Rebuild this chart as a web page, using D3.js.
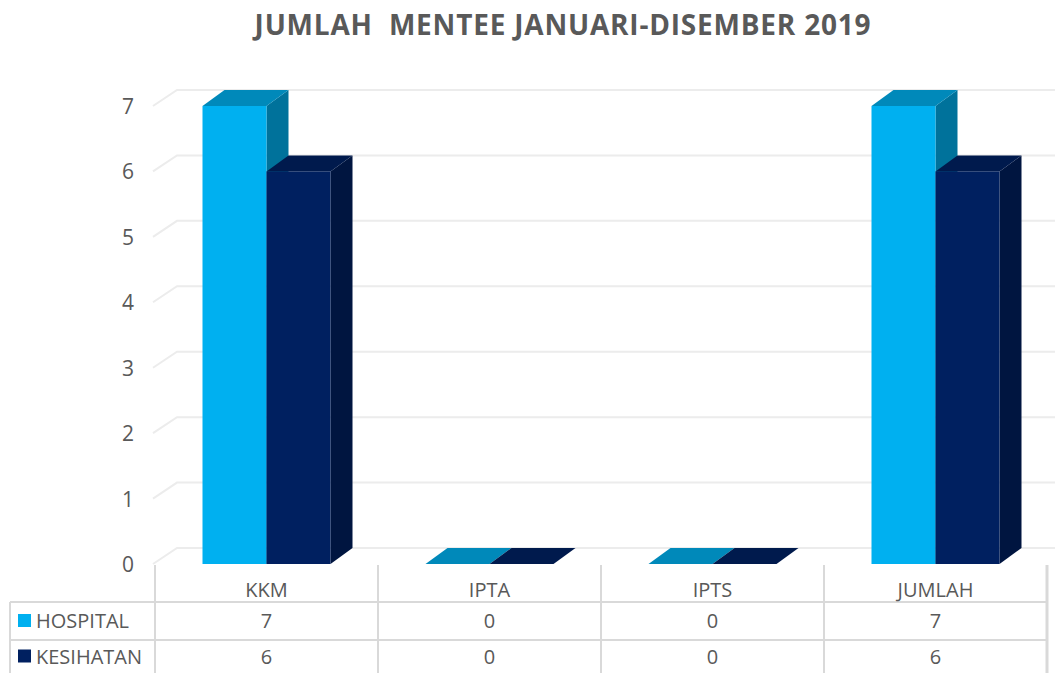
<!DOCTYPE html>
<html>
<head>
<meta charset="utf-8">
<script src="https://cdn.jsdelivr.net/npm/d3@7"></script>
<style>
  body { margin: 0; background: #fff; }
  svg text { font-family: "Open Sans", "Noto Sans", sans-serif; fill: #595959; }
</style>
</head>
<body>
<div id="chart"></div>
<script>
const categories = ['KKM', 'IPTA', 'IPTS', 'JUMLAH']
const seriesNames = ['HOSPITAL', 'KESIHATAN']
const hospital = [7, 0, 0, 7]
const kesihatan = [6, 0, 0, 6]
const yTicks = [0, 1, 2, 3, 4, 5, 6, 7]

const width = 1055
const height = 673
const depth = { dx: 22, dy: -16 }

const colors = {
  HOSPITAL: { front: '#00b0f0', top: '#0089ba', side: '#00729b' },
  KESIHATAN: { front: '#002060', top: '#001a4d', side: '#001540' }
}

const svg = d3.select('#chart').append('svg')
  .attr('width', width)
  .attr('height', height)

svg.append('text')
  .attr('x', 563)
  .attr('y', 35)
  .attr('text-anchor', 'middle')
  .style('font-size', '28px')
  .style('font-weight', 'bold')
  .style('letter-spacing', '0.8px')
  .attr('xml:space', 'preserve')
  .text('JUMLAH  MENTEE JANUARI-DISEMBER 2019')

const x = d3.scaleBand()
  .domain(categories)
  .range([155, 1047])

const x1 = d3.scaleBand()
  .domain(seriesNames)
  .range([-64, 64])

const y = d3.scaleLinear()
  .domain([0, 7])
  .range([564, 106])

// floor / back wall gridlines
const grid = svg.append('g')
yTicks.forEach(t => {
  grid.append('path')
    .attr('d', `M153,${y(t)} L${153 + depth.dx + 2},${y(t) + depth.dy} L${width},${y(t) + depth.dy}`)
    .attr('fill', 'none')
    .attr('stroke', '#ececec')
    .attr('stroke-width', 2)
})

svg.append('g').selectAll('text')
  .data(yTicks)
  .enter()
  .append('text')
  .attr('x', 134)
  .attr('y', d => y(d) + 8)
  .attr('text-anchor', 'end')
  .style('font-size', '21px')
  .text(d => d)

// bars, left to right so later faces overlap earlier ones
const bars = []
categories.forEach((c, i) => {
  bars.push({ cat: c, s: 'HOSPITAL', v: hospital[i] })
  bars.push({ cat: c, s: 'KESIHATAN', v: kesihatan[i] })
})

const barG = svg.append('g')
bars.forEach(d => {
  const x0 = x(d.cat) + x.bandwidth() / 2 + x1(d.s)
  const x2 = x0 + x1.bandwidth()
  const yt = y(d.v)
  const yb = y(0)
  const { dx, dy } = depth
  const col = colors[d.s]
  barG.append('path')
    .attr('d', `M${x2},${yb} L${x2 + dx},${yb + dy} L${x2 + dx},${yt + dy} L${x2},${yt} Z`)
    .attr('fill', col.side)
  barG.append('path')
    .attr('d', `M${x0},${yt} L${x0 + dx},${yt + dy} L${x2 + dx},${yt + dy} L${x2},${yt} Z`)
    .attr('fill', col.top)
  if (d.v > 0) {
    barG.append('rect')
      .attr('x', x0)
      .attr('y', yt)
      .attr('width', x1.bandwidth())
      .attr('height', yb - yt)
      .attr('fill', col.front)
  }
})

// data table
const table = svg.append('g')
const lineColor = '#d9d9d9'
const rowY = [565, 602, 640, 673]

;[602, 640].forEach(ly => {
  table.append('line')
    .attr('x1', 10).attr('x2', 1047)
    .attr('y1', ly).attr('y2', ly)
    .attr('stroke', lineColor).attr('stroke-width', 2)
})
table.append('line')
  .attr('x1', 10).attr('x2', 10)
  .attr('y1', 602).attr('y2', 673)
  .attr('stroke', lineColor).attr('stroke-width', 2)

categories.concat(['end']).forEach((c, i) => {
  const lx = c === 'end' ? x.range()[1] : x(c)
  table.append('line')
    .attr('x1', lx).attr('x2', lx)
    .attr('y1', 565).attr('y2', 673)
    .attr('stroke', lineColor).attr('stroke-width', i === categories.length ? 3 : 2)
})

table.selectAll('.cat')
  .data(categories)
  .enter()
  .append('text')
  .attr('class', 'cat')
  .attr('x', d => x(d) + x.bandwidth() / 2)
  .attr('y', 597)
  .attr('text-anchor', 'middle')
  .style('font-size', '20px')
  .text(d => d)

const rows = [hospital, kesihatan]
rows.forEach((vals, r) => {
  const cy = (rowY[r + 1] + rowY[r + 2]) / 2
  table.append('rect')
    .attr('x', 18).attr('y', cy - 7)
    .attr('width', 13).attr('height', 13)
    .attr('fill', colors[seriesNames[r]].front)
  table.append('text')
    .attr('x', 36).attr('y', cy + 7)
    .style('font-size', '20px')
    .text(seriesNames[r])
  vals.forEach((v, i) => {
    table.append('text')
      .attr('x', x(categories[i]) + x.bandwidth() / 2)
      .attr('y', cy + 7)
      .attr('text-anchor', 'middle')
      .style('font-size', '20px')
      .text(v)
  })
})
</script>
</body>
</html>
